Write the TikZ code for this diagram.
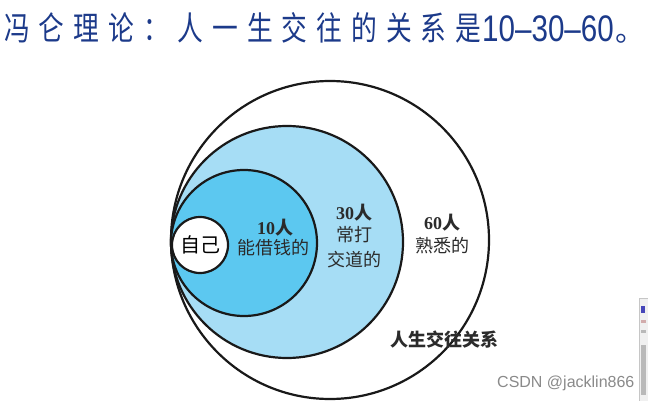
\documentclass[tikz,border=0pt]{standalone}
\usepackage{fontspec}
\usepackage{graphicx}
\newfontfamily\cjk{Noto Sans CJK SC}
\newfontfamily\latinsans{Liberation Sans}
\newfontfamily\latinserif{Liberation Serif}
\definecolor{titleblue}{HTML}{1C3A8A}
\definecolor{midblue}{HTML}{A6DDF5}
\definecolor{innerblue}{HTML}{5CC8F0}
\definecolor{labelgray}{HTML}{2B2B2B}
\definecolor{markgray}{HTML}{8A8A8A}
\newcommand{\tk}{\kern11.5pt}
\tikzset{
  ring/.style={circle, draw=black!90, line width=2.2pt, inner sep=0pt, outer sep=0pt},
  lbl/.style={inner sep=0pt, text=labelgray, font=\cjk\fontsize{18}{18}\selectfont},
  boldlbl/.style={inner sep=0pt, text=labelgray, font=\bfseries\fontsize{18}{18}\selectfont},
}
\begin{document}
\begin{tikzpicture}[x=1pt, y=-1pt]
\useasboundingbox (0,0) rectangle (648,401);
\fill[white] (0,0) rectangle (648,401);
% title
\node[anchor=west, inner sep=0pt, text=titleblue] (title) at (4,28)
  {\cjk\fontsize{33}{33}\selectfont\scalebox{0.78}[1]{冯\tk 仑\tk 理\tk 论\tk ：\tk 人\tk 一\tk 生\tk 交\tk 往\tk 的\tk 关\tk 系\tk 是}};
\node[anchor=base west, inner sep=0pt, text=titleblue] (nums) at (482,42)
  {\latinsans\fontsize{37}{37}\selectfont\scalebox{0.8}[1]{10–30–60}};
\node[anchor=base west, inner sep=0pt, text=titleblue] (stop) at (615,42)
  {\cjk\fontsize{30}{30}\selectfont 。};
% circles
\node[ring, fill=white, minimum size=318pt] (outer) at (330,240) {};
\node[ring, fill=midblue, minimum size=232pt] (mid) at (287,242) {};
\node[ring, fill=innerblue, minimum size=146pt] (inner) at (244,243) {};
\node[ring, fill=white, minimum size=56pt, text=black, font=\cjk\fontsize{20}{20}\selectfont] (self) at (200,245) {自己};
% labels
\node[boldlbl] (n10) at (275,228) {\latinserif 10\cjk 人};
\node[lbl] (t10) at (273,248) {能借钱的};
\node[boldlbl] (n30) at (354,213) {\latinserif 30\cjk 人};
\node[lbl] (t30a) at (354,235) {常打};
\node[lbl] (t30b) at (354,260) {交道的};
\node[boldlbl] (n60) at (442,223) {\latinserif 60\cjk 人};
\node[lbl] (t60) at (442,246) {熟悉的};
\node[boldlbl, font=\cjk\bfseries\fontsize{18}{18}\selectfont] (life) at (444,340) {人生交往关系};
% watermark
\node[anchor=west, inner sep=0pt, text=markgray, font=\latinsans\fontsize{16}{16}\selectfont] (mark) at (497,383) {CSDN @jacklin866};
% cropped thumbnail at the right edge
\fill[gray!12, draw=gray!45, line width=0.6pt] (639,298) rectangle (652,403);
\fill[blue!45!gray] (641,306) rectangle (645,313);
\fill[red!30!gray!50] (641,320) rectangle (646,323);
\fill[gray!55] (641,330) rectangle (646,333);
\fill[gray!55] (641,345) rectangle (646,395);
\end{tikzpicture}
\end{document}
